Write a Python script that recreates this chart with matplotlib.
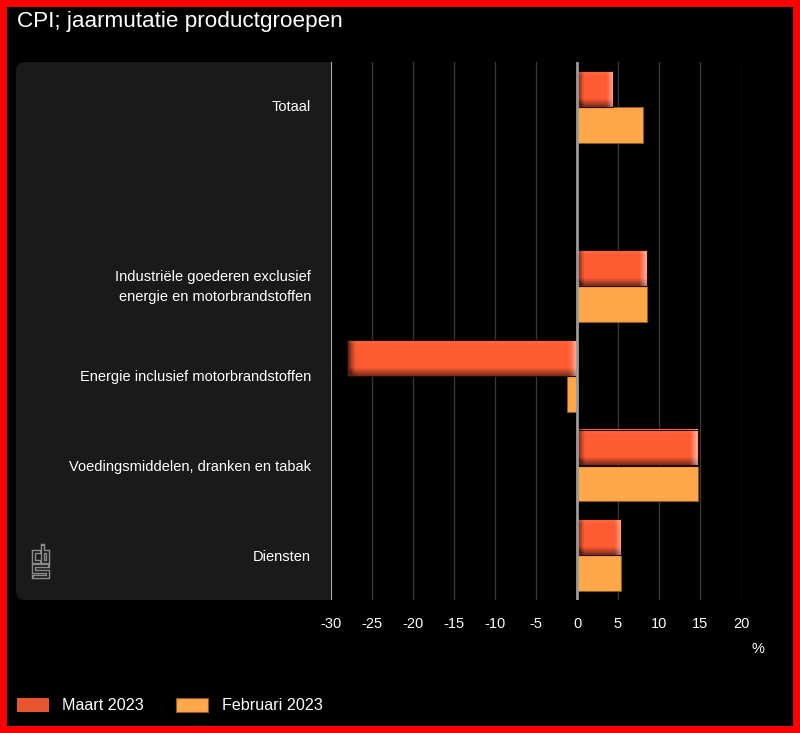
import matplotlib
matplotlib.use("Agg")
import matplotlib.pyplot as plt
import numpy as np
from matplotlib.patches import FancyBboxPatch, Rectangle
from matplotlib.lines import Line2D

plt.rcParams["font.family"] = ["Liberation Sans", "DejaVu Sans"]

categories = ["Totaal", "", "Industriële goederen exclusief\nenergie en motorbrandstoffen",
              "Energie inclusief motorbrandstoffen", "Voedingsmiddelen, dranken en tabak", "Diensten"]
maart_2023 = [4.4, None, 8.5, -28.1, 14.7, 5.4]
februari_2023 = [8.0, None, 8.5, -1.2, 14.8, 5.4]
xticks = [-30, -25, -20, -15, -10, -5, 0, 5, 10, 15, 20]

c_maart = np.array([1.0, 0.36, 0.20])
c_feb = "#FFA849"

W, H = 800, 733
fig = plt.figure(figsize=(W / 100, H / 100), dpi=100, facecolor="black")

def fx(px):
    return px / W

def fy(py):
    return 1 - py / H

# label panel (behind axes)
panel = FancyBboxPatch((fx(16), fy(600)), fx(345) - fx(16), fy(62) - fy(600),
                       boxstyle="round,pad=0,rounding_size=0.012", transform=fig.transFigure,
                       facecolor="#1a1a1a", edgecolor="none", zorder=-5)
fig.patches.append(panel)

ax = fig.add_axes([fx(331), fy(600), fx(741) - fx(331), fy(62) - fy(600)])
ax.set_zorder(1)
ax.set_facecolor("black")

n = len(categories)
ys = np.arange(n)
bh = 0.4

def shaded(x0, x1, y0, y1):
    nx, ny = 80, 24
    u = np.linspace(0, 1, nx)
    v = np.linspace(0, 1, ny)
    U, V = np.meshgrid(u, v)
    span = abs(x1 - x0)
    px_w = span * 8.2
    du = 7.0 / max(px_w, 1)
    left_dark = np.clip(1 - U / du, 0, 1)
    right_light = np.clip((U - (1 - du)) / du, 0, 1)
    top_light = np.clip(1 - V / 0.12, 0, 1)
    bot_dark = np.clip((V - 0.78) / 0.22, 0, 1)
    img = np.ones((ny, nx, 3)) * c_maart
    dark = np.clip(0.6 * left_dark + 0.5 * bot_dark, 0, 0.65)
    img = img * (1 - dark[..., None])
    light = 0.5 * right_light + 0.12 * top_light
    img = img + (1 - img) * light[..., None]
    lo, hi = min(x0, x1), max(x0, x1)
    ax.imshow(img, extent=(lo, hi, y1, y0), aspect="auto", interpolation="bilinear", zorder=3)
    ax.add_patch(Rectangle((lo, y0), hi - lo, y1 - y0, fill=False, edgecolor="#2a0a00", lw=0.8, zorder=4))

for i in range(n):
    m = maart_2023[i]
    f = februari_2023[i]
    if m is not None:
        shaded(0, m, ys[i] - bh, ys[i])
    if f is not None:
        ax.barh(ys[i] + bh / 2, f, height=bh, color=c_feb, edgecolor="#8a5a20", lw=0.8, zorder=3)

ax.set_xlim(-30, 20)
ax.set_ylim(n - 0.5, -0.5)
ax.set_xticks(xticks)
ax.set_xticklabels([str(t) for t in xticks], color="white", fontsize=10.5)
ax.tick_params(axis="x", length=0, pad=12)
ax.set_yticks([])
for t in xticks:
    if t == 0:
        ax.axvline(0, color="#9a9a9a", lw=2, zorder=5)
    elif t == -30:
        ax.axvline(t, color="#b0b0b0", lw=1.5, zorder=2)
    else:
        ax.axvline(t, color="#383838", lw=1, zorder=2)
for s in ax.spines.values():
    s.set_visible(False)

for i, c in enumerate(categories):
    if c:
        fig.text(fx(311), fy(62 + 90 * i + 45), c, color="white", fontsize=10.5,
                 ha="right", va="center", linespacing=1.55)

fig.text(fx(758), fy(649), "%", color="white", fontsize=10.5, ha="center", va="center")
fig.text(fx(17), fy(22), "CPI; jaarmutatie productgroepen", color="white", fontsize=16.2,
         ha="left", va="center")

# legend
fig.patches.append(Rectangle((fx(17), fy(712)), fx(32), fy(0) - fy(14), transform=fig.transFigure,
                             facecolor="#E8552F", edgecolor="none"))
fig.text(fx(62), fy(705), "Maart 2023", color="white", fontsize=11.6, ha="left", va="center")
fig.patches.append(Rectangle((fx(176), fy(712)), fx(32), fy(0) - fy(14), transform=fig.transFigure,
                             facecolor=c_feb, edgecolor="#8a5a20", lw=0.8))
fig.text(fx(222), fy(705), "Februari 2023", color="white", fontsize=11.6, ha="left", va="center")

# logo (cbs mark), hollow strokes
logo = [
    [(40, 552), (34, 552), (34, 562), (40, 562)],
    [(43, 546), (43, 562), (48, 562), (48, 552), (43, 552)],
    [(48, 566), (34, 566), (34, 571.5), (48, 571.5), (48, 577), (34, 577)],
]
for pts in logo:
    xs = [fx(p[0]) for p in pts]
    yv = [fy(p[1]) for p in pts]
    fig.lines.append(Line2D(xs, yv, transform=fig.transFigure, color="#8a8a8a", lw=3.2,
                            solid_joinstyle="miter", solid_capstyle="projecting"))
    fig.lines.append(Line2D(xs, yv, transform=fig.transFigure, color="#1a1a1a", lw=1.2,
                            solid_joinstyle="miter", solid_capstyle="butt"))

# red frame
fig.patches.append(Rectangle((0, 0), 1, 1, transform=fig.transFigure, fill=False,
                             edgecolor="#FF0000", lw=10, zorder=10))

fig.savefig("out.png", dpi=100, facecolor="black")
